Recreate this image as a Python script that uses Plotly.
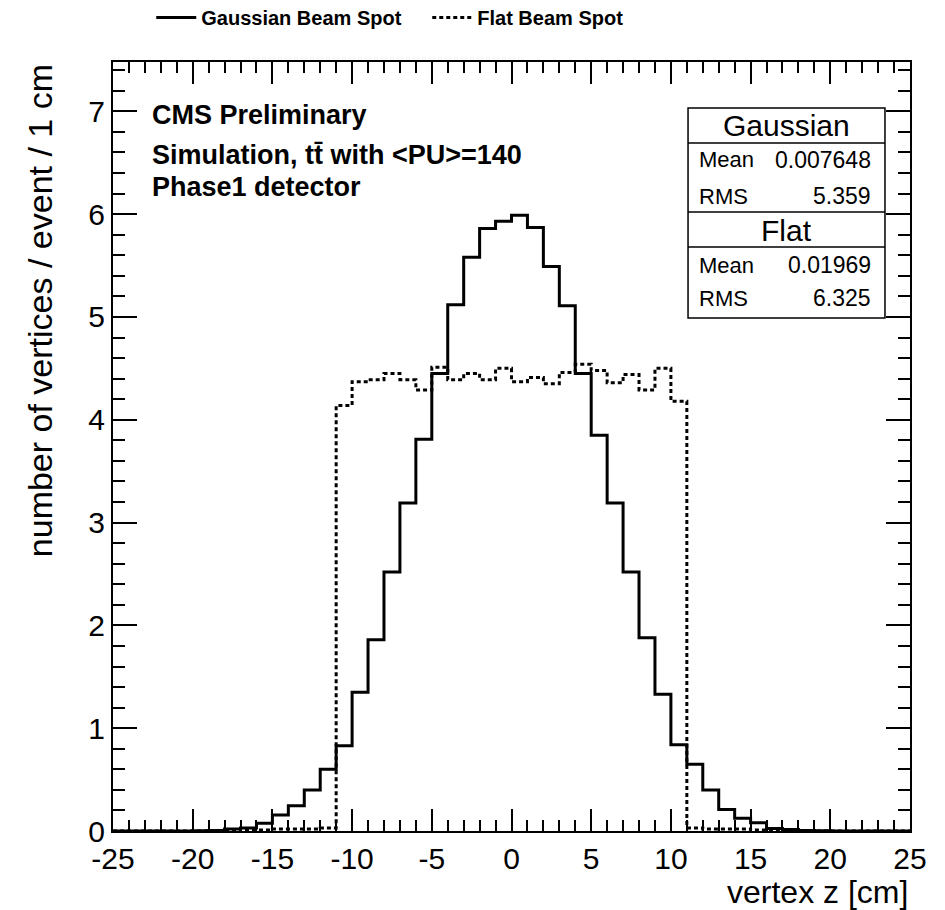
import plotly.graph_objects as go

# ---- data ----
bin_edges = list(range(-25, 26))  # 1 cm bins

gaussian = [0, 0, 0, 0, 0, 0.002,            # -25 .. -20
            0.006, 0.02, 0.03, 0.075, 0.155,  # -19 .. -15
            0.245, 0.40, 0.60, 0.83, 1.35,    # -14 .. -10
            1.86, 2.52, 3.19, 3.81, 4.45,     # -9 .. -5
            5.12, 5.58, 5.86, 5.93, 5.99,     # -4 .. 0
            5.87, 5.49, 5.11, 4.45, 3.85,     # 1 .. 5
            3.19, 2.52, 1.88, 1.33, 0.84,     # 6 .. 10
            0.65, 0.40, 0.21, 0.125, 0.08,    # 11 .. 15
            0.025, 0.015, 0.005, 0.002, 0,    # 16 .. 20
            0, 0, 0, 0]                       # 21 .. 24

flat = [0, 0, 0, 0, 0, 0,                     # -25 .. -20
        0, 0, 0.01, 0.01, 0.02,               # -19 .. -15
        0.02, 0.02, 0.03, 4.14, 4.37,         # -14 .. -10
        4.39, 4.45, 4.39, 4.29, 4.51,         # -9 .. -5
        4.39, 4.45, 4.39, 4.50, 4.37,         # -4 .. 0
        4.41, 4.35, 4.46, 4.54, 4.48,         # 1 .. 5
        4.36, 4.44, 4.29, 4.50, 4.18,         # 6 .. 10
        0.03, 0.02, 0.02, 0.02, 0.01,         # 11 .. 15
        0.01, 0, 0, 0, 0,                     # 16 .. 20
        0, 0, 0, 0]                           # 21 .. 24

series_names = ["Gaussian Beam Spot", "Flat Beam Spot"]
stats_gaus = {"Mean": "0.007648", "RMS": "5.359"}
stats_flat = {"Mean": "0.01969", "RMS": "6.325"}

x_ticks = [-25, -20, -15, -10, -5, 0, 5, 10, 15, 20, 25]
x_ticktext = ["-25", "-20", "-15", "-10", "-5", "0", "5", "10", "15", "20", "25"]
y_ticks = [0, 1, 2, 3, 4, 5, 6, 7]

FONT = "Liberation Sans, Arial, Helvetica, sans-serif"

fig = go.Figure()
fig.add_trace(go.Scatter(
    x=bin_edges, y=gaussian + [gaussian[-1]], mode="lines", line_shape="hv",
    line=dict(color="black", width=3), name="<b>%s</b>" % series_names[0]))
fig.add_trace(go.Scatter(
    x=bin_edges, y=flat + [flat[-1]], mode="lines", line_shape="hv",
    line=dict(color="black", width=3, dash="4px,3px"), name="<b>%s</b>" % series_names[1]))

axis_common = dict(
    showgrid=False, zeroline=False, showline=True, linecolor="black", linewidth=2,
    mirror="ticks", ticks="inside", tickcolor="black", tickwidth=1.5,
    tickfont=dict(family=FONT, size=30, color="black"),
)
fig.update_xaxes(range=[-25, 25], tickvals=x_ticks, ticktext=x_ticktext, ticklen=22,
                 minor=dict(dtick=1, ticklen=11, ticks="inside", tickcolor="black", tickwidth=1.5),
                 **axis_common)
fig.update_yaxes(range=[0, 7.48], tickvals=y_ticks, ticklen=24,
                 minor=dict(dtick=0.2, ticklen=12, ticks="inside", tickcolor="black", tickwidth=1.5),
                 **axis_common)

# stats box
x0, x1 = 0.7215, 0.9686
ys = [0.9402, 0.8947, 0.8049, 0.7594, 0.6671]
fig.add_shape(type="rect", xref="paper", yref="paper", x0=x0, x1=x1, y0=ys[4], y1=ys[0],
              line=dict(color="black", width=1.5), fillcolor="white", layer="above")
for yy in ys[1:4]:
    fig.add_shape(type="line", xref="paper", yref="paper", x0=x0, x1=x1, y0=yy, y1=yy,
                  line=dict(color="black", width=1.5))

ann = []
def txt(x, y, s, size, xanchor="left", bold=False, yanchor="middle"):
    ann.append(dict(x=x, y=y, xref="paper", yref="paper", text=("<b>%s</b>" % s) if bold else s,
                    showarrow=False, xanchor=xanchor, yanchor=yanchor,
                    font=dict(family=FONT, size=size, color="black")))

xc = (x0 + x1) / 2
txt(xc, 0.918, "Gaussian", 30, "center")
txt(0.7327, 0.8726, "Mean", 22)
txt(0.9536, 0.8726, stats_gaus["Mean"], 23, "right")
txt(0.7327, 0.8257, "RMS", 22)
txt(0.9536, 0.8257, stats_gaus["RMS"], 23, "right")
txt(xc, 0.7815, "Flat", 30, "center")
txt(0.7327, 0.736, "Mean", 22)
txt(0.9536, 0.736, stats_flat["Mean"], 23, "right")
txt(0.7327, 0.6931, "RMS", 22)
txt(0.9536, 0.6931, stats_flat["RMS"], 23, "right")

# CMS labels
txt(0.046, 0.931, "CMS Preliminary", 27, bold=True)
txt(0.046, 0.879, "Simulation, tt\u0304 with &lt;PU&gt;=140", 27, bold=True)
txt(0.046, 0.8374, "Phase1 detector", 27, bold=True)

# axis titles
txt(1.0, -0.079, "vertex z [cm]", 32, "right")
ann.append(dict(x=-0.092, y=1.0, xref="paper", yref="paper", text="number of vertices / event / 1 cm",
                showarrow=False, textangle=-90, xanchor="center", yanchor="top",
                font=dict(family=FONT, size=34, color="black")))

# the page body has an 8px margin, so the figure is offset by 8px
fig.update_layout(
    width=937, height=902,
    margin=dict(l=105, r=35, t=54, b=79, autoexpand=False),
    paper_bgcolor="white", plot_bgcolor="white",
    annotations=ann,
    legend=dict(orientation="h", x=0.048, y=1.058, xanchor="left", yanchor="middle",
                font=dict(family=FONT, size=20, color="black"), bgcolor="rgba(0,0,0,0)",
                itemwidth=40, entrywidth=221, entrywidthmode="pixels"),
    showlegend=True,
)

fig.write_html("out.html")
